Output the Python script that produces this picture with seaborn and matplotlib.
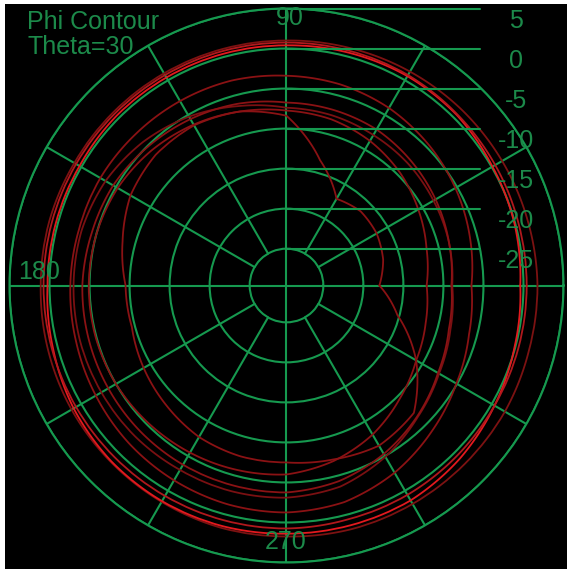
import numpy as np
import pandas as pd
import matplotlib
matplotlib.use('Agg')
import matplotlib.pyplot as plt
from matplotlib.patches import Rectangle
import seaborn as sns

# Phi contour cuts, level in dB every 15 degrees of phi
phi_deg = [0, 15, 30, 45, 60, 75, 90, 105, 120, 135, 150, 165,
           180, 195, 210, 225, 240, 255, 270, 285, 300, 315, 330, 345]

cut_outer = [1.75, 1.6, 1.5, 1.4, 1.25, 1.1, 1.0, 1.0, 1.0, 1.0, 1.0, 1.1,
             1.1, 1.25, 1.4, 1.5, 1.6, 1.75, 1.75, 1.9, 1.9, 1.9, 1.9, 1.75]
cut_main = [-0.4, -0.1, 0.1, 0.5, 0.6, 0.5, 0.4, 0.4, 0.4, 0.4, 0.25, 0.25,
            0.25, 0.6, 1.1, 1.4, 1.5, 1.5, 1.4, 1.4, 1.4, 1.0, 0.4, -0.1]
cut_mid = [0.4, 0.4, 0.5, 0.6, 0.75, 0.75, 0.75, 0.75, 0.75, 0.75, 0.75, 0.75,
           0.75, 0.75, 0.75, 0.75, 0.75, 0.75, 0.75, 0.6, 0.6, 0.5, 0.4, 0.4]
cut_a = [-6.5, -5.9, -5.25, -4.6, -4.0, -3.6, -3.4, -3.1, -3.0, -2.9, -2.75, -2.75,
         -2.6, -2.4, -2.1, -1.75, -1.5, -1.3, -1.25, -1.6, -2.6, -3.9, -5.1, -6.0]
cut_d = [-8.9, -8.6, -8.4, -8.1, -7.9, -7.6, -7.4, -6.4, -5.25, -4.25, -3.5, -3.1,
         -3.0, -2.9, -2.9, -2.9, -3.0, -3.0, -3.1, -3.6, -4.9, -6.4, -7.6, -8.4]
cut_b = [-9.0, -8.6, -8.1, -7.6, -7.1, -6.9, -6.75, -6.1, -5.6, -5.1, -4.6, -4.4,
         -4.1, -4.0, -3.9, -3.8, -3.75, -3.75, -3.75, -4.3, -5.3, -6.5, -7.75, -8.6]
cut_c = [-12.1, -11.5, -10.6, -9.6, -8.75, -8.1, -7.75, -7.1, -6.4, -5.75, -5.25, -5.0,
         -4.9, -4.9, -5.0, -5.25, -5.5, -5.75, -6.0, -6.9, -8.1, -9.6, -10.9, -11.6]
cut_dent = [-18.0, -17.1, -16.6, -16.5, -17.1, -13.4, -8.4, -7.1, -6.5, -6.5, -7.1, -8.4,
            -9.5, -9.6, -9.0, -8.4, -7.75, -7.5, -7.5, -7.1, -6.5, -7.1, -10.9, -15.25]

cuts = {'outer': cut_outer, 'main': cut_main, 'mid': cut_mid, 'a': cut_a,
        'd': cut_d, 'b': cut_b, 'c': cut_c, 'dent': cut_dent}
cut_colors = {'outer': '#7c1212', 'main': '#e3191e', 'mid': '#b0181c',
              'a': '#8a1214', 'd': '#7a1012', 'b': '#8a1214', 'c': '#8a1214',
              'dent': '#8a1214'}

ring_levels = [-25, -20, -15, -10, -5, 0, 5]
ring_labels = ['-25', '-20', '-15', '-10', '-5', '0', '5']
spoke_deg = [30, 60, 120, 150, 210, 240, 300, 330]
r_min, r_max = -29.6, 5

green = '#16994f'
text_green = '#1c8a4a'

rows = []
for name, vals in cuts.items():
    # close every contour on itself
    for p, v in zip(phi_deg + [360], vals + [vals[0]]):
        rows.append({'cut': name, 'phi': np.deg2rad(p), 'level': v})
df = pd.DataFrame(rows)

sns.set_style('white')
plt.rcParams['font.family'] = ['Liberation Sans', 'DejaVu Sans']

fig = plt.figure(figsize=(5.67, 5.69), dpi=100, facecolor='black')
fig.patches.append(Rectangle((0, 0), 5 / 567, 1, transform=fig.transFigure,
                             facecolor='white', edgecolor='none', zorder=-1))
fig.patches.append(Rectangle((0, 1 - 4 / 569), 1, 4 / 569, transform=fig.transFigure,
                             facecolor='white', edgecolor='none', zorder=-1))

ax = fig.add_axes([0.01675, 0.01142, 0.97707, 0.97364], projection='polar')
ax.set_facecolor('black')
ax.set_ylim(r_min, r_max)
ax.set_yticks(ring_levels)
ax.set_yticklabels([])
ax.set_xticks(np.deg2rad([0, 90, 180, 270]))
ax.set_xticklabels([])
ax.grid(True, color=green, lw=1.5)
ax.spines['polar'].set_color(green)
ax.spines['polar'].set_linewidth(1.5)

# spokes start at the first ring
for d in spoke_deg:
    ax.plot([np.deg2rad(d)] * 2, [ring_levels[0], r_max], color=green, lw=1.5)

sns.lineplot(data=df, x='phi', y='level', hue='cut', palette=cut_colors,
             sort=False, estimator=None, legend=False, lw=1.3, ax=ax)
# follow the polar arcs between samples instead of straight chords
for line in ax.lines[len(spoke_deg):]:
    line.get_path()._interpolation_steps = 30
ax.set_xlabel('')
ax.set_ylabel('')

# level scale: horizontal marks from the centre with labels on the right
for v, lab in zip(ring_levels, ring_labels):
    y = 0.5 + 0.5 * (v - r_min) / (r_max - r_min)
    ax.plot([0.5, 0.849], [y, y], transform=ax.transAxes, color=green,
            lw=1.5, clip_on=False)
    ax.text(0.914, y - 0.0217, lab, transform=ax.transAxes, ha='center',
            va='center', color=text_green, fontsize=18)

ax.text(0.506, 0.983, '90', transform=ax.transAxes, ha='center', va='center',
        color=text_green, fontsize=18)
ax.text(0.053, 0.524, '180', transform=ax.transAxes, ha='center', va='center',
        color=text_green, fontsize=18)
ax.text(0.499, 0.037, '270', transform=ax.transAxes, ha='center', va='center',
        color=text_green, fontsize=18)

fig.text(27 / 567, 1 - 22 / 569, 'Phi Contour', ha='left', va='center',
         color=text_green, fontsize=18)
fig.text(27 / 567, 1 - 47 / 569, 'Theta=30', ha='left', va='center',
         color=text_green, fontsize=18)

fig.savefig('out.png', dpi=100, facecolor=fig.get_facecolor())
